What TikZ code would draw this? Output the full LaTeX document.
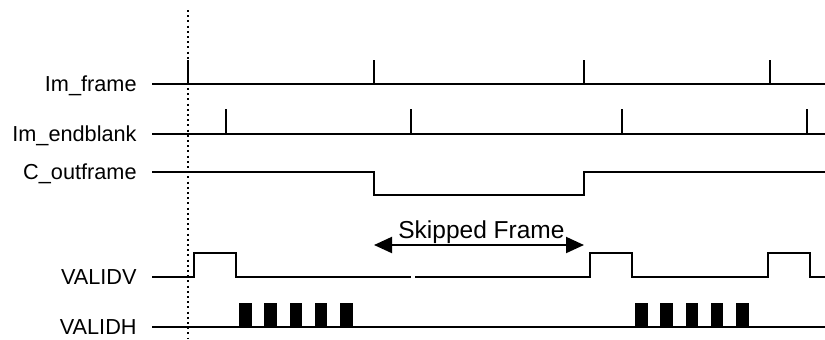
\documentclass[tikz,border=0pt]{standalone}
\usepackage{fontspec}
\setmainfont{Liberation Sans}
\usetikzlibrary{arrows.meta}
\begin{document}
\begin{tikzpicture}[x=0.5pt,y=-0.5pt,
  wave/.style={line width=1pt,line join=miter},
  siglabel/.style={anchor=base east,inner sep=0pt,font=\fontsize{10.85pt}{13pt}\selectfont},
  pulse/.style={fill=black,draw=none}]
\useasboundingbox (0,0) rectangle (825,339);
% dotted reference line
\draw[line width=1pt,dash pattern=on 1pt off 1.6pt] (188,10) -- (188,339);
% labels
\node[siglabel] (lf) at (137,91.8) {Im\_frame};
\node[siglabel] (le) at (137,141.8) {Im\_endblank};
\node[siglabel] (lc) at (137,179.8) {C\_outframe};
\node[siglabel] (lv) at (137,284.8) {VALIDV};
\node[siglabel] (lh) at (137,334.8) {VALIDH};
% Im_frame
\draw[wave] (152,84) -- (825,84);
\foreach \x in {188,374,584,770} \draw[wave] (\x,84) -- (\x,60);
% Im_endblank
\draw[wave] (152,134) -- (825,134);
\foreach \x in {226,411,622,807} \draw[wave] (\x,134) -- (\x,109);
% C_outframe
\draw[wave] (152,172) -- (374,172) -- (374,195) -- (584,195) -- (584,172) -- (825,172);
% VALIDV
\draw[wave] (152,277) -- (194,277) -- (194,253) -- (236,253) -- (236,277) -- (411,277);
\draw[wave] (415,277) -- (590,277) -- (590,253) -- (632,253) -- (632,277) -- (768,277) -- (768,253) -- (810,253) -- (810,277) -- (825,277);
% VALIDH
\draw[wave] (152,327) -- (825,327);
\foreach \x in {239,264.3,289.6,314.9,340.2,635,660.3,685.6,710.9,736.2}
  \fill[pulse] (\x,303) rectangle ++(12.5,24);
% Skipped frame arrow
\coordinate (sl) at (374,245);
\coordinate (sr) at (584,245);
\draw[line width=1pt,{Triangle[length=9pt,width=8pt]}-{Triangle[length=9pt,width=8pt]}] (sl) -- (sr);
\node[anchor=base west,inner sep=0pt,font=\fontsize{12.25pt}{14pt}\selectfont] (skip) at (398,238) {Skipped Frame};
\end{tikzpicture}
\end{document}
